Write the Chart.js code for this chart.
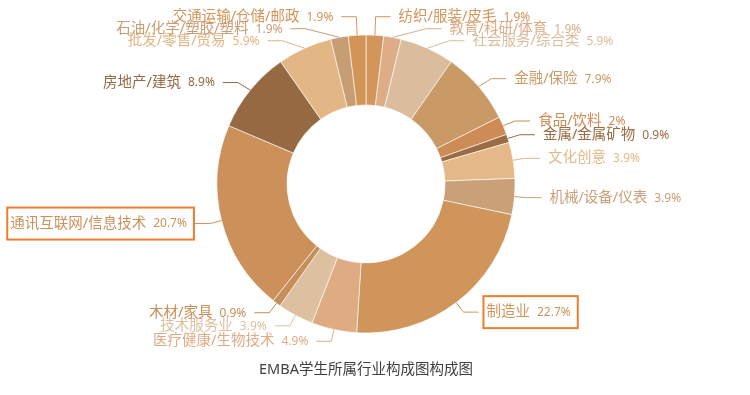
<!DOCTYPE html>
<html>
<head>
<meta charset="utf-8">
<title>EMBA学生所属行业构成图</title>
<script src="https://cdn.jsdelivr.net/npm/chart.js@4.4.1/dist/chart.umd.min.js"></script>
<style>
    html, body { margin: 0; padding: 0; background: #fff; }
    #wrap { width: 750px; height: 395px; }
</style>
</head>
<body>
<div id="wrap"><canvas id="industryChart" width="750" height="395"></canvas></div>
<script>
// data, clockwise from 12 o'clock
var categories = ['纺织/服装/皮毛', '教育/科研/体育', '社会服务/综合类', '金融/保险', '食品/饮料',
    '金属/金属矿物', '文化创意', '机械/设备/仪表', '制造业', '医疗健康/生物技术', '技术服务业',
    '木材/家具', '通讯互联网/信息技术', '房地产/建筑', '批发/零售/贸易', '石油/化学/塑胶/塑料',
    '交通运输/仓储/邮政'];
var shares = [1.9, 1.9, 5.9, 7.9, 2, 0.9, 3.9, 3.9, 22.7, 4.9, 3.9, 0.9, 20.7, 8.9, 5.9, 1.9, 1.9];
var sliceColors = ['#d39559', '#deac86', '#dbbd9e', '#c99a66', '#cd8c55', '#9b6b43', '#e4b888',
    '#c9a077', '#cf955a', '#dfab83', '#dcc0a0', '#c68e59', '#cc915b', '#956a42', '#e2b685',
    '#c79d73', '#d39458'];
var highlighted = ['通讯互联网/信息技术', '制造业'];
var chartTitle = 'EMBA学生所属行业构成图构成图';

var NAME_FONT = '14.5px "Noto Sans", "Noto Sans CJK SC", sans-serif';
var PCT_FONT = '12px "Noto Sans", "Noto Sans CJK SC", sans-serif';
var LEN1 = 12, LEN2 = 15, GAP = 8, MIN_GAP = 12;

// push overlapping labels apart, then put them back on an ellipse (echarts style)
function layoutSide(list){
    'use strict';
    if(list.length < 2){ return; }
    list.sort(function(a, b){ return a.y - b.y; });
    var shifted = false;
    for(var iter = 0; iter < 200; iter++){
        var moved = false;
        for(var k = 1; k < list.length; k++){
            var gap = list[k].y - list[k - 1].y;
            if(gap < MIN_GAP - 0.01){
                var d = (MIN_GAP - gap) / 2;
                list[k - 1].y -= d;
                list[k].y += d;
                moved = true;
                shifted = true;
            }
        }
        if(!moved){ break; }
    }
    if(!shifted){ return; }
    var cy = list[0].cy;
    [list.filter(function(it){ return it.y < cy; }),
     list.filter(function(it){ return it.y >= cy; })].forEach(function(semi){
        if(!semi.length){ return; }
        var far = semi[0];
        semi.forEach(function(it){ if(Math.abs(it.y - cy) > Math.abs(far.y - cy)){ far = it; } });
        var rA = far.R + LEN1;
        var dxF = far.ex - far.cx;
        var dyF = Math.abs(far.y - cy);
        var rB = Math.abs(dxF) < rA ? Math.sqrt(dyF * dyF / (1 - dxF * dxF / (rA * rA))) : rA;
        semi.forEach(function(it){
            var dy = Math.abs(it.y - cy);
            var dx = Math.sqrt(Math.max(0, 1 - dy * dy / (rB * rB))) * rA;
            it.ex = it.cx + it.dir * dx;
        });
    });
}

var outerLabels = {
    id: 'outerLabels',
    afterDatasetsDraw: function(chart){
        var ctx = chart.ctx;
        var arcs = chart.getDatasetMeta(0).data;
        var items = [];
        arcs.forEach(function(arc, i){
            var p = arc.getProps(['x', 'y', 'startAngle', 'endAngle', 'outerRadius'], true);
            var mid = (p.startAngle + p.endAngle) / 2;
            var c = Math.cos(mid), s = Math.sin(mid);
            var r1 = p.outerRadius + LEN1;
            items.push({
                i: i, cx: p.x, cy: p.y, R: p.outerRadius,
                dir: c >= 0 ? 1 : -1,
                ax: p.x + c * p.outerRadius, ay: p.y + s * p.outerRadius,
                ex: p.x + c * r1, y: p.y + s * r1
            });
        });
        layoutSide(items.filter(function(it){ return it.dir === 1; }));
        layoutSide(items.filter(function(it){ return it.dir === -1; }));

        ctx.save();
        items.forEach(function(it){
            var color = sliceColors[it.i];
            var name = categories[it.i];
            var pct = shares[it.i] + '%';
            var lineEnd = it.ex + it.dir * LEN2;

            ctx.strokeStyle = color;
            ctx.lineWidth = 1;
            ctx.beginPath();
            ctx.moveTo(it.ax, it.ay);
            ctx.lineTo(it.ex, it.y);
            ctx.lineTo(lineEnd, it.y);
            ctx.stroke();

            ctx.font = NAME_FONT;
            var nameW = ctx.measureText(name).width;
            ctx.font = PCT_FONT;
            var pctW = ctx.measureText(pct).width;
            var start = lineEnd + it.dir * GAP;
            var left = it.dir === 1 ? start : start - pctW - 7 - nameW;
            var total = nameW + 7 + pctW;

            ctx.fillStyle = color;
            ctx.textBaseline = 'middle';
            ctx.textAlign = 'left';
            ctx.font = NAME_FONT;
            ctx.fillText(name, left, it.y);
            ctx.font = PCT_FONT;
            ctx.fillText(pct, left + nameW + 7, it.y + 0.5);

            if(highlighted.indexOf(name) !== -1){
                ctx.strokeStyle = '#ed7d31';
                ctx.lineWidth = 2;
                ctx.strokeRect(left - 3, it.y - 16, total + 10, 32);
            }
        });

        // caption under the donut
        ctx.font = '14.5px "Noto Sans", "Noto Sans CJK SC", sans-serif';
        ctx.fillStyle = '#404040';
        ctx.textAlign = 'center';
        ctx.textBaseline = 'middle';
        var area = chart.chartArea;
        ctx.fillText(chartTitle, (area.left + area.right) / 2, 370);
        ctx.restore();
    }
};

var ctx = document.getElementById('industryChart').getContext('2d');

var config = {
    type: 'doughnut',
    data: {
        labels: categories,
        datasets: [{
            data: shares,
            backgroundColor: sliceColors,
            borderColor: 'rgba(255, 255, 255, 0.6)',
            borderWidth: 1,
            hoverOffset: 0,
            hoverBorderWidth: 1
        }]
    },
    options: {
        responsive: false,
        animation: false,
        cutout: '53%',
        radius: 149,
        layout: {
            padding: { top: 35, bottom: 62, left: 217, right: 235 }
        },
        plugins: {
            legend: { display: false },
            tooltip: { enabled: false },
            title: { display: false }
        }
    },
    plugins: [outerLabels]
};

var industryChart = new Chart(ctx, config);
</script>
</body>
</html>
